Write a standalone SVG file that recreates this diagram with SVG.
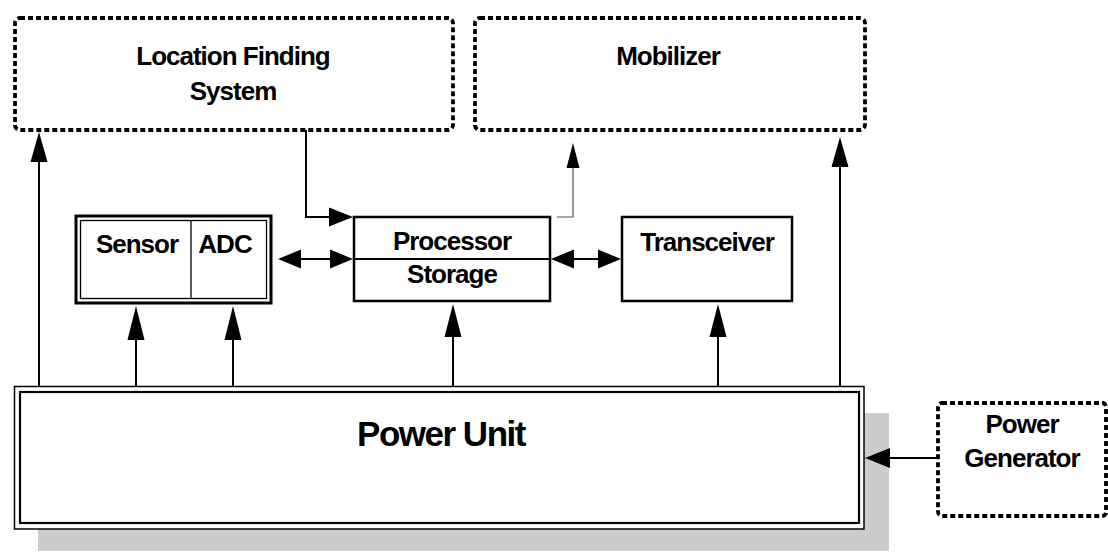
<svg xmlns="http://www.w3.org/2000/svg" width="1108" height="554" viewBox="0 0 1108 554">
<style>
.dash{fill:none;stroke:#000;stroke-width:3.8;stroke-dasharray:5 3}
.box{fill:#fff;stroke:#000;stroke-width:2.5}
.t{font-family:"Liberation Sans",Arial,sans-serif;font-weight:bold;font-size:26px;letter-spacing:-1px;text-anchor:middle;fill:#000}
.ln{fill:none;stroke:#000;stroke-width:2}
.ah{fill:#000;stroke:none}
</style>
<rect width="1108" height="554" fill="#fff"/>
<g id="location-finding">
<rect class="dash" x="15" y="18" width="438" height="112" rx="5"/>
<text class="t" x="233" y="65">Location Finding</text>
<text class="t" x="233" y="100">System</text>
</g>
<g id="mobilizer">
<rect class="dash" x="475" y="18" width="390" height="112" rx="5"/>
<text class="t" x="668" y="65">Mobilizer</text>
</g>
<g id="sensor-adc">
<rect x="76" y="216" width="195" height="87" fill="#fff" stroke="#000" stroke-width="3"/>
<rect x="80.5" y="220.5" width="186" height="78" fill="none" stroke="#000" stroke-width="1.3"/>
<line x1="191" y1="220" x2="191" y2="299" stroke="#000" stroke-width="1.3"/>
<text class="t" x="137" y="253">Sensor</text>
<text class="t" x="225" y="253">ADC</text>
</g>
<g id="processor">
<rect class="box" x="354" y="217" width="196" height="84"/>
<line x1="354" y1="259" x2="550" y2="259" stroke="#000" stroke-width="2"/>
<text class="t" x="452" y="250">Processor</text>
<text class="t" x="452" y="283">Storage</text>
</g>
<g id="transceiver">
<rect class="box" x="622" y="217" width="170" height="84"/>
<text class="t" x="707" y="251">Transceiver</text>
</g>
<g id="power-unit">
<rect x="38" y="413" width="851" height="138" fill="#ccc"/>
<rect x="14.5" y="386.5" width="849.5" height="142.5" fill="#fff" stroke="#000" stroke-width="1.5"/>
<rect x="20" y="392" width="839" height="131" fill="none" stroke="#000" stroke-width="2.2"/>
<text class="t" x="441" y="446" style="font-size:35px;letter-spacing:-1.5px">Power Unit</text>
</g>
<g id="power-generator">
<rect class="dash" x="938" y="403" width="168" height="113" rx="4"/>
<text class="t" x="1022" y="433">Power</text>
<text class="t" x="1022" y="467">Generator</text>
</g>
<g id="connectors">
<line class="ln" x1="39" y1="386" x2="39" y2="160"/>
<polygon class="ah" points="39,132 30.5,162 47.5,162"/>
<line class="ln" x1="840" y1="386" x2="840" y2="165"/>
<polygon class="ah" points="840,137 831.5,167 848.5,167"/>
<line class="ln" x1="136" y1="386" x2="136" y2="338"/>
<polygon class="ah" points="136,306 127.5,340 144.5,340"/>
<line class="ln" x1="233" y1="386" x2="233" y2="338"/>
<polygon class="ah" points="233,306 224.5,340 241.5,340"/>
<line class="ln" x1="453" y1="386" x2="453" y2="335"/>
<polygon class="ah" points="453,304 444.5,337 461.5,337"/>
<line class="ln" x1="718" y1="386" x2="718" y2="335"/>
<polygon class="ah" points="718,304 709.5,337 726.5,337"/>
<line class="ln" x1="938" y1="458" x2="888" y2="458"/>
<polygon class="ah" points="865,458 890,448 890,468"/>
<line class="ln" x1="298" y1="259" x2="333" y2="259"/>
<polygon class="ah" points="278,259 301,249.5 301,268.5"/>
<polygon class="ah" points="353,259 330,249.5 330,268.5"/>
<line class="ln" x1="570" y1="259" x2="602" y2="259"/>
<polygon class="ah" points="551,259 574,249.5 574,268.5"/>
<polygon class="ah" points="621,259 598,249.5 598,268.5"/>
<polyline class="ln" points="306,130 306,217 332,217"/>
<polygon class="ah" points="353,217 329,207.5 329,226.5"/>
<polyline points="557,217 573,217 573,165" fill="none" stroke="#555" stroke-width="1.2"/>
<polygon class="ah" points="573,143 566.5,168 579.5,168"/>
</g>
</svg>
